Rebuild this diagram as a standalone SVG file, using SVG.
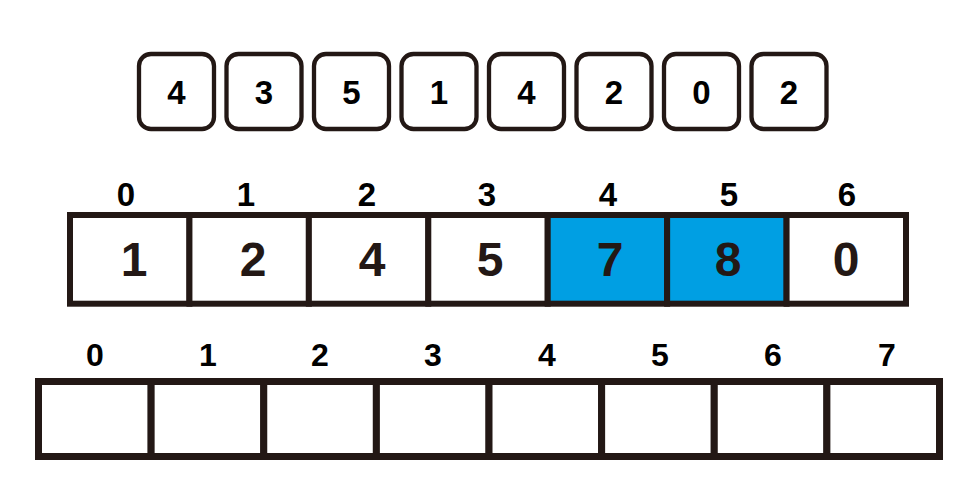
<svg xmlns="http://www.w3.org/2000/svg" width="967" height="487" viewBox="0 0 967 487">
<style>
.box{fill:#fff;stroke:#231815;stroke-width:4.3}
.cell{fill:#fff;stroke:#231815;stroke-width:6}
.blue{fill:#009FE3;stroke:#231815;stroke-width:6}
.cell2{fill:#fff;stroke:#231815;stroke-width:7}
.t{font-family:"Liberation Sans",Arial,sans-serif;font-weight:bold;text-anchor:middle}
.tb{font-size:33px;fill:#000}
.big{font-size:48px;fill:#231815}
.idx{font-size:33px;fill:#000}
.idx2{font-size:32px;fill:#000}
</style>
<rect width="967" height="487" fill="#fff"/>
<g id="input">
<g id="in0"><rect class="box" x="139" y="54" width="75" height="75" rx="12"/><text class="t tb" x="176.5" y="103.5">4</text></g>
<g id="in1"><rect class="box" x="226.5" y="54" width="75" height="75" rx="12"/><text class="t tb" x="264" y="103.5">3</text></g>
<g id="in2"><rect class="box" x="314" y="54" width="75" height="75" rx="12"/><text class="t tb" x="351.5" y="103.5">5</text></g>
<g id="in3"><rect class="box" x="401.5" y="54" width="75" height="75" rx="12"/><text class="t tb" x="439" y="103.5">1</text></g>
<g id="in4"><rect class="box" x="489" y="54" width="75" height="75" rx="12"/><text class="t tb" x="526.5" y="103.5">4</text></g>
<g id="in5"><rect class="box" x="576.5" y="54" width="75" height="75" rx="12"/><text class="t tb" x="614" y="103.5">2</text></g>
<g id="in6"><rect class="box" x="664" y="54" width="75" height="75" rx="12"/><text class="t tb" x="701.5" y="103.5">0</text></g>
<g id="in7"><rect class="box" x="751.5" y="54" width="75" height="75" rx="12"/><text class="t tb" x="789" y="103.5">2</text></g>
</g>
<g id="count">
<g id="c0"><rect class="cell" x="70" y="215" width="119.43" height="88.7"/><text class="t idx" x="126" y="206">0</text><text class="t big" x="134" y="276">1</text></g>
<g id="c1"><rect class="cell" x="189.43" y="215" width="119.43" height="88.7"/><text class="t idx" x="246" y="206">1</text><text class="t big" x="253" y="276">2</text></g>
<g id="c2"><rect class="cell" x="308.86" y="215" width="119.43" height="88.7"/><text class="t idx" x="367" y="206">2</text><text class="t big" x="372" y="276">4</text></g>
<g id="c3"><rect class="cell" x="428.29" y="215" width="119.43" height="88.7"/><text class="t idx" x="487" y="206">3</text><text class="t big" x="490" y="276">5</text></g>
<g id="c4"><rect class="blue" x="547.71" y="215" width="119.43" height="88.7"/><text class="t idx" x="608" y="206">4</text><text class="t big" x="610" y="276">7</text></g>
<g id="c5"><rect class="blue" x="667.14" y="215" width="119.43" height="88.7"/><text class="t idx" x="729" y="206">5</text><text class="t big" x="728" y="276">8</text></g>
<g id="c6"><rect class="cell" x="786.57" y="215" width="119.43" height="88.7"/><text class="t idx" x="847" y="206">6</text><text class="t big" x="846" y="276" fill="#000">0</text></g>
</g>
<g id="output">
<g id="o0"><rect class="cell2" x="38.5" y="381.5" width="112.63" height="75"/><text class="t idx2" x="95" y="366">0</text></g>
<g id="o1"><rect class="cell2" x="151.13" y="381.5" width="112.63" height="75"/><text class="t idx2" x="208" y="366">1</text></g>
<g id="o2"><rect class="cell2" x="263.75" y="381.5" width="112.63" height="75"/><text class="t idx2" x="320" y="366">2</text></g>
<g id="o3"><rect class="cell2" x="376.38" y="381.5" width="112.63" height="75"/><text class="t idx2" x="433" y="366">3</text></g>
<g id="o4"><rect class="cell2" x="489" y="381.5" width="112.63" height="75"/><text class="t idx2" x="547" y="366">4</text></g>
<g id="o5"><rect class="cell2" x="601.63" y="381.5" width="112.63" height="75"/><text class="t idx2" x="660" y="366">5</text></g>
<g id="o6"><rect class="cell2" x="714.25" y="381.5" width="112.63" height="75"/><text class="t idx2" x="773" y="366">6</text></g>
<g id="o7"><rect class="cell2" x="826.88" y="381.5" width="112.63" height="75"/><text class="t idx2" x="887" y="366">7</text></g>
</g>
<g id="connectors"/>
</svg>
